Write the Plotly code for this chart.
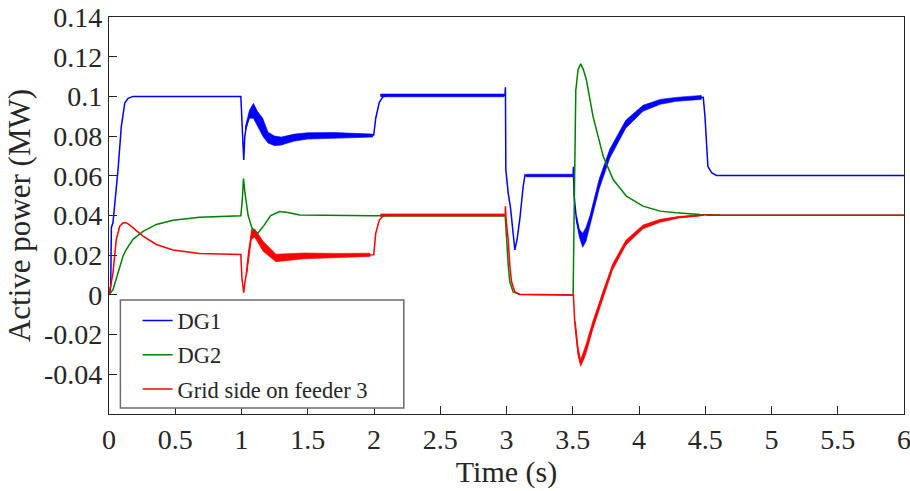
import plotly.graph_objects as go

# ---- DG1 active power (MW) ----
t_dg1 = [0, 0.005, 0.013, 0.018, 0.03, 0.043, 0.068, 0.093, 0.119, 0.144, 0.181,
         0.995, 1.000, 1.004, 1.010, 1.017, 1.025, 1.037, 1.062, 1.088, 1.12, 1.163,
         1.24, 1.29, 1.40, 1.47, 1.72, 1.998, 2.013, 2.04, 2.07, 2.10, 2.988, 2.992,
         2.995, 3.013, 3.03, 3.05, 3.063, 3.08, 3.10, 3.126, 3.14, 3.151, 3.177, 3.3,
         3.503, 3.505, 3.51, 3.528, 3.55, 3.574, 3.60, 3.63, 3.705, 3.78, 3.905, 4.03,
         4.16, 4.28, 4.47, 4.485, 4.498, 4.51, 4.52, 4.55, 4.585, 6.0]
p_dg1 = [0, 0.001, 0.0045, 0.034, 0.0363, 0.0447, 0.063, 0.0849, 0.0966, 0.099, 0.100,
         0.100, 0.090, 0.081, 0.078, 0.068, 0.080, 0.085, 0.091, 0.094, 0.089, 0.083,
         0.077, 0.0775, 0.079, 0.080, 0.0805, 0.0805, 0.089, 0.097, 0.100, 0.1005, 0.1005, 0.1046,
         0.063, 0.0513, 0.044, 0.030, 0.0227, 0.028, 0.038, 0.0547, 0.0605, 0.0600, 0.0600, 0.0601,
         0.0601, 0.0645, 0.050, 0.0379, 0.031, 0.027, 0.031, 0.0379, 0.0564, 0.072, 0.0865, 0.0941,
         0.0974, 0.0987, 0.0996, 0.0996, 0.0898, 0.0732, 0.0647, 0.0614, 0.0602, 0.0601]

# ripple envelopes of DG1: (time, lower, upper) per segment
dg1_ripple_t = [
    [1.03, 1.06, 1.09, 1.12, 1.16, 1.20, 1.25, 1.30, 1.40, 1.50, 1.70, 1.99],
    [2.05, 2.30, 2.60, 2.98],
    [3.15, 3.30, 3.50],
    [3.53, 3.55, 3.575, 3.60, 3.63, 3.70, 3.78, 3.90, 4.03, 4.16, 4.28, 4.47],
]
dg1_ripple_lo = [
    [0.083, 0.089, 0.089, 0.0855, 0.080, 0.0765, 0.0752, 0.0755, 0.0775, 0.0785, 0.079, 0.0795],
    [0.0998, 0.0998, 0.0998, 0.0998],
    [0.0595, 0.0595, 0.0595],
    [0.0365, 0.029, 0.024, 0.027, 0.034, 0.0535, 0.069, 0.084, 0.0925, 0.096, 0.0975, 0.0985],
]
dg1_ripple_hi = [
    [0.085, 0.093, 0.0965, 0.0925, 0.089, 0.082, 0.080, 0.0795, 0.081, 0.0817, 0.0818, 0.081],
    [0.1012, 0.1012, 0.1012, 0.1012],
    [0.0608, 0.0608, 0.0608],
    [0.0395, 0.033, 0.031, 0.034, 0.040, 0.0585, 0.0735, 0.088, 0.0955, 0.0985, 0.0995, 0.1005],
]

# ---- DG2 active power (MW) ----
t_dg2 = [0, 0.03, 0.068, 0.106, 0.131, 0.181, 0.257, 0.357, 0.483, 0.684, 0.995,
         1.005, 1.015, 1.025, 1.05, 1.08, 1.11, 1.125, 1.17, 1.22, 1.288, 1.35, 1.44,
         2.0, 2.99, 3.0, 3.013, 3.025, 3.05, 3.10, 3.503, 3.508, 3.515, 3.523, 3.54,
         3.56, 3.58, 3.603, 3.653, 3.73, 3.805, 3.905, 4.03, 4.16, 4.28, 4.46, 4.61, 6.0]
p_dg2 = [0, 0.0026, 0.011, 0.0196, 0.023, 0.028, 0.032, 0.0355, 0.0376, 0.0391, 0.0399,
         0.047, 0.0586, 0.052, 0.040, 0.0335, 0.0315, 0.0312, 0.035, 0.040, 0.042, 0.0415, 0.0403,
         0.0399, 0.0399, 0.026, 0.0149, 0.0066, 0.0015, 0.0003, 0.0, 0.028, 0.070, 0.103, 0.1135,
         0.1164, 0.1135, 0.1083, 0.0899, 0.0698, 0.0581, 0.0497, 0.0447, 0.0422, 0.0414, 0.0405, 0.0402, 0.0401]

# ---- Grid side on feeder 3 active power (MW) ----
t_grid = [0, 0.03, 0.055, 0.081, 0.105, 0.126, 0.15, 0.181, 0.257, 0.357, 0.483, 0.684,
          0.995, 1.003, 1.010, 1.017, 1.025, 1.037, 1.055, 1.075, 1.10, 1.13, 1.163, 1.21,
          1.26, 1.35, 1.47, 1.72, 1.998, 2.013, 2.04, 2.07, 2.10, 2.99, 2.992, 2.995, 3.0,
          3.013, 3.025, 3.038, 3.063, 3.10, 3.505, 3.515, 3.54, 3.56, 3.58, 3.603, 3.653,
          3.73, 3.805, 3.905, 4.03, 4.16, 4.28, 4.485, 4.49, 4.52, 6.0]
p_grid = [0, 0.011, 0.028, 0.0346, 0.0362, 0.0365, 0.0355, 0.0338, 0.0296, 0.0254, 0.0226, 0.0209,
          0.0203, 0.0087, 0.006, 0.0011, 0.006, 0.011, 0.022, 0.030, 0.0315, 0.028, 0.0245, 0.020,
          0.0187, 0.019, 0.0197, 0.020, 0.0202, 0.031, 0.0377, 0.0399, 0.0402, 0.0402, 0.0447, 0.040, 0.036,
          0.0279, 0.0149, 0.0066, 0.0015, 0.0002, 0.0, -0.0137, -0.0288, -0.0347, -0.032, -0.0271, -0.0154,
          0.0013, 0.0147, 0.0265, 0.034, 0.0373, 0.039, 0.0401, 0.0405, 0.0401, 0.0401]

grid_ripple_t = [
    [1.04, 1.075, 1.10, 1.163, 1.26, 1.47, 1.72, 1.97],
    [2.05, 2.40, 2.70, 2.98],
    [3.52, 3.54, 3.56, 3.60, 3.65, 3.73, 3.80, 3.90, 4.03, 4.16, 4.30, 4.45],
]
grid_ripple_lo = [
    [0.0105, 0.028, 0.029, 0.022, 0.0167, 0.0182, 0.0188, 0.0194],
    [0.0396, 0.0396, 0.0396, 0.0396],
    [-0.0175, -0.0305, -0.036, -0.0295, -0.0175, -0.001, 0.0125, 0.025, 0.0333, 0.0366, 0.0387, 0.0397],
]
grid_ripple_hi = [
    [0.0115, 0.033, 0.0332, 0.027, 0.0205, 0.0211, 0.0209, 0.021],
    [0.0408, 0.0408, 0.0408, 0.0408],
    [-0.0135, -0.0265, -0.0325, -0.025, -0.0135, 0.0025, 0.0155, 0.0275, 0.0352, 0.0381, 0.0395, 0.0404],
]

# ---- axes ----
x_ticks = [0, 0.5, 1, 1.5, 2, 2.5, 3, 3.5, 4, 4.5, 5, 5.5, 6]
x_labels = ["0", "0.5", "1", "1.5", "2", "2.5", "3", "3.5", "4", "4.5", "5", "5.5", "6"]
y_ticks = [0.14, 0.12, 0.1, 0.08, 0.06, 0.04, 0.02, 0, -0.02, -0.04, -0.06]
y_labels = ["0.14", "0.12", "0.1", "0.08", "0.06", "0.04", "0.02", "0", "-0.02", "-0.04", ""]

series_names = ["DG1", "DG2", "Grid side on feeder 3"]
BLUE, GREEN, RED = "#0000FF", "#008000", "#FF0000"
FONT = "Liberation Serif"
INK = "#262626"


def ripple_polygon(ts, los, his):
    """Closed outlines of the ripple envelopes, segments separated by None."""
    xs, ys = [], []
    for t, lo, hi in zip(ts, los, his):
        xs += list(t) + list(reversed(t)) + [t[0], None]
        ys += list(hi) + list(reversed(lo)) + [hi[0], None]
    return xs, ys


fig = go.Figure()

for (ts, los, his, col) in [(dg1_ripple_t, dg1_ripple_lo, dg1_ripple_hi, BLUE),
                            (grid_ripple_t, grid_ripple_lo, grid_ripple_hi, RED)]:
    bx, by = ripple_polygon(ts, los, his)
    fig.add_trace(go.Scatter(x=bx, y=by, mode="lines", fill="toself", fillcolor=col,
                             line=dict(color=col, width=0.6), showlegend=False,
                             hoverinfo="skip"))

for name, tx, py, col in [(series_names[0], t_dg1, p_dg1, BLUE),
                          (series_names[1], t_dg2, p_dg2, GREEN),
                          (series_names[2], t_grid, p_grid, RED)]:
    fig.add_trace(go.Scatter(x=tx, y=py, mode="lines", name=name, legendgroup=name,
                             line=dict(color=col, width=1.5)))

axis_common = dict(showline=True, linecolor=INK, linewidth=1.2, mirror=True,
                   ticks="inside", ticklen=8, tickcolor=INK, tickwidth=1,
                   showgrid=False, zeroline=False, automargin=False,
                   ticklabeloverflow="allow",
                   tickfont=dict(family=FONT, size=28, color=INK))

fig.update_layout(
    width=910, height=491,
    margin=dict(l=109, r=6, t=17, b=77),
    paper_bgcolor="white", plot_bgcolor="white",
    font=dict(family=FONT, color=INK),
    xaxis=dict(range=[0, 6], tickvals=x_ticks, ticktext=x_labels,
               title=dict(text="Time (s)", font=dict(family=FONT, size=30, color=INK), standoff=0),
               **axis_common),
    yaxis=dict(range=[-0.06, 0.14], tickvals=y_ticks, ticktext=y_labels,
               title=dict(text="Active power (MW)", font=dict(family=FONT, size=31, color=INK), standoff=4),
               **axis_common),
    legend=dict(x=0.036, y=0.289, xanchor="left", yanchor="top",
                bgcolor="rgba(0,0,0,0)", borderwidth=0,
                font=dict(family=FONT, size=22.5, color=INK),
                tracegroupgap=2, traceorder="grouped"),
    shapes=[dict(type="rect", xref="paper", yref="paper", x0=0.0143, x1=0.3708,
                 y0=0.015, y1=0.287, line=dict(color="#6b6b6b", width=1.5),
                 fillcolor="white", layer="above")],
)

fig.write_html("out.html")
